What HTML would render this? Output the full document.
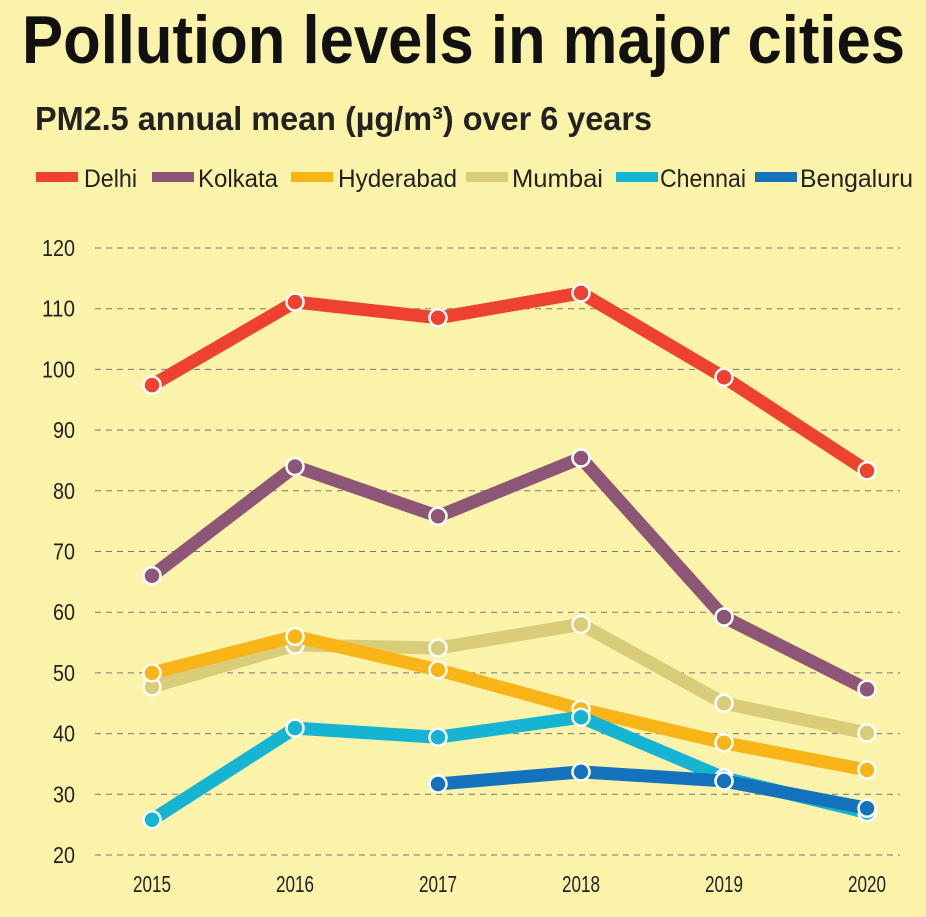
<!DOCTYPE html>
<html><head><meta charset="utf-8"><style>
html,body{margin:0;padding:0;background:#fbf3aa;}
svg{display:block;font-family:"Liberation Sans Narrow","Liberation Sans",sans-serif;}
</style></head><body>
<svg id="chart" width="926" height="917" viewBox="0 0 926 917">
<rect width="926" height="917" fill="#fbf3aa"/>
<text x="22" y="63" font-size="68" font-weight="bold" fill="#111" textLength="883" lengthAdjust="spacingAndGlyphs">Pollution levels in major cities</text>
<text x="35" y="130" font-size="33" font-weight="bold" fill="#222" textLength="617" lengthAdjust="spacingAndGlyphs">PM2.5 annual mean (µg/m³) over 6 years</text>
<g id="legend"></g>
<g id="grid"></g>
<g id="yaxis"></g>
<g id="xaxis"></g>
<g id="series"></g>
</svg>
<script>
const years = ["2015","2016","2017","2018","2019","2020"];
const yTicks = [20,30,40,50,60,70,80,90,100,110,120];
const cityNames = ["Mumbai","Hyderabad","Kolkata","Delhi","Chennai","Bengaluru"];
const cityColors = ["#d9cd7a","#f9b418","#8e5676","#ee4130","#16b4d3","#1372bb"];
const delhi = [97.4,111.1,108.5,112.6,98.7,83.3];
const kolkata = [66,84,75.8,85.4,59.2,47.3];
const hyderabad = [50,56,50.5,44,38.5,34];
const mumbai = [47.7,54.6,54.1,58,45,40.1];
const chennai = [25.8,40.9,39.4,42.7,32.7,27];
const bengaluru = [null,null,31.7,33.7,32.2,27.7];
const cityValues = [mumbai,hyderabad,kolkata,delhi,chennai,bengaluru];
const legendNames = ["Delhi","Kolkata","Hyderabad","Mumbai","Chennai","Bengaluru"];
const legendColors = ["#ee4130","#8e5676","#f9b418","#d9cd7a","#16b4d3","#1372bb"];

const NS="http://www.w3.org/2000/svg";
function mk(tag,attrs,parent){const e=document.createElementNS(NS,tag);for(const k in attrs)e.setAttribute(k,attrs[k]);parent.appendChild(e);return e;}
const x0=152,x1=867,yTop=248,yBot=855,vMin=20,vMax=120;
function xs(i){return x0+(x1-x0)*i/(years.length-1);}
function ys(v){return yBot-(v-vMin)/(vMax-vMin)*(yBot-yTop);}

const legendX=[36,152,291,466,616,755];
const legendTX=[84,198,338,512,660,800];
const legendTW=[53,80,119,91,86,113];
const leg=document.getElementById('legend');
legendNames.forEach((n,i)=>{
  const r=mk('rect',{x:legendX[i],y:172,width:42,height:10,fill:legendColors[i]},leg);
  
  
  const t=mk('text',{x:legendTX[i],y:187,'font-size':25,fill:'#222',textLength:legendTW[i],lengthAdjust:'spacingAndGlyphs'},leg);
  t.textContent=n;
  
  
});

const grid=document.getElementById('grid'),ya=document.getElementById('yaxis');
yTicks.forEach(v=>{
  const l=mk('line',{x1:95,x2:900,y1:ys(v),y2:ys(v),stroke:'#777','stroke-width':1,'stroke-dasharray':'6,5'},grid);
  
  
  const s=String(v);
  const w=s.length*11;
  const t=mk('text',{x:75-w,y:ys(v)+8,'font-size':23,fill:'#222',textLength:w,lengthAdjust:'spacingAndGlyphs'},ya);
  t.textContent=s;
  
  
});
const xa=document.getElementById('xaxis');
years.forEach((y,i)=>{
  const t=mk('text',{x:xs(i)-19,y:892,'font-size':23,fill:'#222',textLength:38,lengthAdjust:'spacingAndGlyphs'},xa);
  t.textContent=y;
  
  
});

const sg=document.getElementById('series');
cityNames.forEach((n,ci)=>{
  const vals=cityValues[ci];
  const g=mk('g',{},sg);
  
  
  const pts=[];vals.forEach((v,i)=>{if(v!=null)pts.push(xs(i)+','+ys(v));});
  const p=mk('polyline',{points:pts.join(' '),fill:'none',stroke:cityColors[ci],'stroke-width':13,'stroke-linejoin':'round'},g);
  
  
  vals.forEach((v,i)=>{if(v==null)return;
    const c=mk('circle',{cx:xs(i),cy:ys(v),r:8.5,fill:cityColors[ci],stroke:'#fff','stroke-width':2.5},g);
    
    
  });
});
</script>
</body></html>
